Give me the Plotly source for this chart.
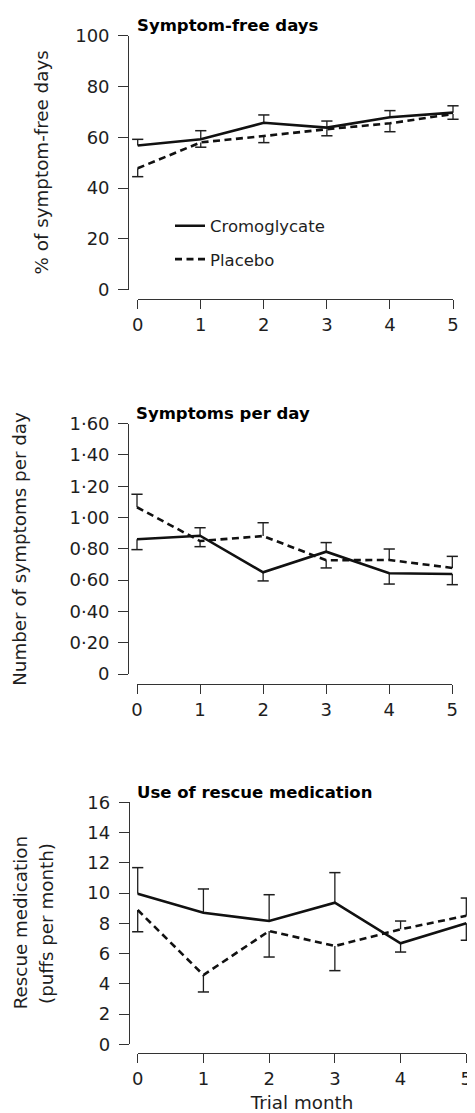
import plotly.graph_objects as go

W, H = 475, 1113          # browser window
OFF = 8                   # default page (body) margin around the plot div
FW, FH = W - OFF, H - OFF # figure size so it ends exactly at the window edge
FONT = "DejaVu Sans"
INK = "#1e1e1e"

# ---------------- data ----------------
months = [0, 1, 2, 3, 4, 5]
month_labels = ["0", "1", "2", "3", "4", "5"]

# Panel 1: Symptom-free days (%)
sfd_crom = [56.8, 59.2, 65.7, 63.8, 67.9, 69.7]
sfd_plac = [47.8, 58.0, 60.5, 63.2, 65.5, 69.2]
sfd_crom_up = [2.4, 3.4, 3.1, 2.6, 2.6, 2.7]
sfd_crom_dn = [None, None, None, None, None, None]
sfd_plac_up = [None, None, None, None, None, None]
sfd_plac_dn = [3.3, 1.9, 2.6, 2.6, 3.3, 2.1]
sfd_ticks = [0, 20, 40, 60, 80, 100]
sfd_ticktext = ["0", "20", "40", "60", "80", "100"]

# Panel 2: Symptoms per day
spd_crom = [0.861, 0.884, 0.650, 0.782, 0.644, 0.639]
spd_plac = [1.066, 0.850, 0.882, 0.727, 0.729, 0.678]
spd_crom_up = [None, 0.051, None, 0.058, None, None]
spd_crom_dn = [0.066, None, 0.055, None, 0.069, 0.068]
spd_plac_up = [0.083, None, 0.085, None, 0.070, 0.074]
spd_plac_dn = [None, 0.036, None, 0.049, None, None]
spd_ticks = [0, 0.2, 0.4, 0.6, 0.8, 1.0, 1.2, 1.4, 1.6]
spd_ticktext = ["0", "0·20", "0·40", "0·60", "0·80", "1·00", "1·20", "1·40", "1·60"]

# Panel 3: Use of rescue medication (puffs per month)
res_crom = [9.96, 8.70, 8.15, 9.36, 6.68, 8.00]
res_plac = [8.88, 4.58, 7.49, 6.50, 7.60, 8.50]
res_crom_up = [1.72, 1.57, 1.74, 1.99, None, None]
res_crom_dn = [None, None, None, None, 0.58, 1.12]
res_plac_up = [None, None, None, None, 0.55, 1.17]
res_plac_dn = [1.44, 1.12, 1.72, 1.63, None, None]
res_ticks = [0, 2, 4, 6, 8, 10, 12, 14, 16]
res_ticktext = ["0", "2", "4", "6", "8", "10", "12", "14", "16"]

series_names = ["Cromoglycate", "Placebo"]

# ---------------- layout geometry (window pixels -> paper) ----------------
def px_x(p):
    return (p - OFF) / FW


def px_y(p):
    return 1 - (p - OFF) / FH


panels = [
    dict(title="Symptom-free days", ytitle=["% of symptom-free days"], ytitle_x=[41.7],
         crom=sfd_crom, plac=sfd_plac, cu=sfd_crom_up, cd=sfd_crom_dn, pu=sfd_plac_up, pd=sfd_plac_dn,
         ticks=sfd_ticks, ticktext=sfd_ticktext, yrange=[0, 100],
         x0=137.7, x5=453.0, ytop=35.7, ybot=289.7, xaxis_at=299.0, yaxis_at=128.3, title_y=25.5),
    dict(title="Symptoms per day", ytitle=["Number of symptoms per day"], ytitle_x=[20.0],
         crom=spd_crom, plac=spd_plac, cu=spd_crom_up, cd=spd_crom_dn, pu=spd_plac_up, pd=spd_plac_dn,
         ticks=spd_ticks, ticktext=spd_ticktext, yrange=[0, 1.6],
         x0=137.0, x5=452.3, ytop=423.7, ybot=674.0, xaxis_at=684.0, yaxis_at=128.3, title_y=413.5),
    dict(title="Use of rescue medication", ytitle=["Rescue medication", "(puffs per month)"],
         ytitle_x=[20.0, 46.7],
         crom=res_crom, plac=res_plac, cu=res_crom_up, cd=res_crom_dn, pu=res_plac_up, pd=res_plac_dn,
         ticks=res_ticks, ticktext=res_ticktext, yrange=[0, 16],
         x0=137.7, x5=466.3, ytop=802.3, ybot=1044.3, xaxis_at=1053.3, yaxis_at=129.0, title_y=792.0),
]

fig = go.Figure()
layout = {}
annotations = []
PAD = 0.12  # extra data-axis room (in months) so caps at 0 and 5 are not clipped


def err_segments(vals, errs, sign):
    xs, ys, cx, cy = [], [], [], []
    for m, v, e in zip(months, vals, errs):
        if e is None:
            continue
        end = v + sign * e
        xs += [m, m, None]
        ys += [v, end, None]
        cx.append(m)
        cy.append(end)
    return xs, ys, cx, cy


for i, p in enumerate(panels):
    n = i + 1
    xd_name = "x" if n == 1 else f"x{2 * n - 1}"
    xv_name = f"x{2 * n}"
    y_name = "y" if n == 1 else f"y{n}"
    xd_key = "xaxis" if n == 1 else f"xaxis{2 * n - 1}"
    xv_key = f"xaxis{2 * n}"
    y_key = "yaxis" if n == 1 else f"yaxis{n}"

    unit = (p["x5"] - p["x0"]) / 5.0
    # hidden data x axis (slightly wider so nothing gets clipped)
    layout[xd_key] = dict(domain=[px_x(p["x0"] - PAD * unit), min(1.0, px_x(p["x5"] + PAD * unit))],
                          range=[-PAD, 5 + PAD], anchor=y_name, visible=False, fixedrange=True,
                          automargin=False)
    # visible x axis, exactly spanning months 0..5, detached below the plot
    layout[xv_key] = dict(domain=[px_x(p["x0"]), px_x(p["x5"])], range=[0, 5],
                          anchor="free", position=px_y(p["xaxis_at"]), automargin=False,
                          showline=True, linecolor="#333333", linewidth=1.3,
                          ticks="outside", ticklen=9, tickwidth=1.3, tickcolor="#333333",
                          tickvals=months, ticktext=month_labels, showgrid=False, zeroline=False,
                          tickfont=dict(family=FONT, size=18, color=INK), fixedrange=True)
    layout[y_key] = dict(domain=[px_y(p["ybot"]), px_y(p["ytop"])], range=p["yrange"],
                         anchor="free", position=px_x(p["yaxis_at"]), automargin=False,
                         showline=True, linecolor="#333333", linewidth=1.3,
                         ticks="outside", ticklen=10, tickwidth=1.3, tickcolor="#333333",
                         ticklabelstandoff=5,
                         tickvals=p["ticks"], ticktext=p["ticktext"], showgrid=False, zeroline=False,
                         tickfont=dict(family=FONT, size=18, color=INK), fixedrange=True)

    # error bars (one-sided, outward)
    for vals, up, dn in ((p["crom"], p["cu"], p["cd"]), (p["plac"], p["pu"], p["pd"])):
        for errs, sign in ((up, 1), (dn, -1)):
            xs, ys, cx, cy = err_segments(vals, errs, sign)
            if not cx:
                continue
            fig.add_trace(go.Scatter(x=xs, y=ys, mode="lines", xaxis=xd_name, yaxis=y_name,
                                     line=dict(color=INK, width=1.3), showlegend=False,
                                     hoverinfo="skip"))
            fig.add_trace(go.Scatter(x=cx, y=cy, mode="markers", xaxis=xd_name, yaxis=y_name,
                                     marker=dict(symbol="line-ew", size=8,
                                                 line=dict(color=INK, width=1.5)),
                                     showlegend=False, hoverinfo="skip", cliponaxis=False))

    fig.add_trace(go.Scatter(x=months, y=p["crom"], mode="lines", name=series_names[0],
                             xaxis=xd_name, yaxis=y_name, legendgroup="c", showlegend=(n == 1),
                             line=dict(color="#111111", width=2.6)))
    fig.add_trace(go.Scatter(x=months, y=p["plac"], mode="lines", name=series_names[1],
                             xaxis=xd_name, yaxis=y_name, legendgroup="p", showlegend=(n == 1),
                             line=dict(color="#111111", width=2.6, dash="7px,4.5px")))
    # carrier trace so the detached visible month axis exists
    fig.add_trace(go.Scatter(x=months, y=[None] * len(months), mode="lines", xaxis=xv_name,
                             yaxis=y_name, showlegend=False, hoverinfo="skip"))

    annotations.append(dict(text=p["title"], xref="paper", yref="paper",
                            x=px_x(p["x0"] - 3), y=px_y(p["title_y"]),
                            xanchor="left", yanchor="middle", showarrow=False,
                            font=dict(family=FONT, size=16.5, color="#000000", weight="bold")))
    ymid = (p["ytop"] + p["ybot"]) / 2
    for t, tx in zip(p["ytitle"], p["ytitle_x"]):
        annotations.append(dict(text=t, xref="paper", yref="paper", x=px_x(tx), y=px_y(ymid),
                                xanchor="center", yanchor="middle", textangle=-90, showarrow=False,
                                font=dict(family=FONT, size=18.3, color=INK)))

# x-axis title on bottom panel
layout["xaxis6"]["title"] = dict(text="Trial month", font=dict(family=FONT, size=18.3, color=INK),
                                 standoff=13)

fig.update_layout(
    width=FW, height=FH, margin=dict(l=0, r=0, t=0, b=0, pad=0),
    paper_bgcolor="white", plot_bgcolor="rgba(0,0,0,0)",
    showlegend=True,
    legend=dict(x=px_x(170), y=px_y(208.5), xanchor="left", yanchor="top",
                bgcolor="rgba(0,0,0,0)", borderwidth=0, traceorder="grouped", tracegroupgap=9,
                font=dict(family=FONT, size=16.5, color=INK)),
    annotations=annotations,
    **layout,
)

fig.write_html("out.html")
